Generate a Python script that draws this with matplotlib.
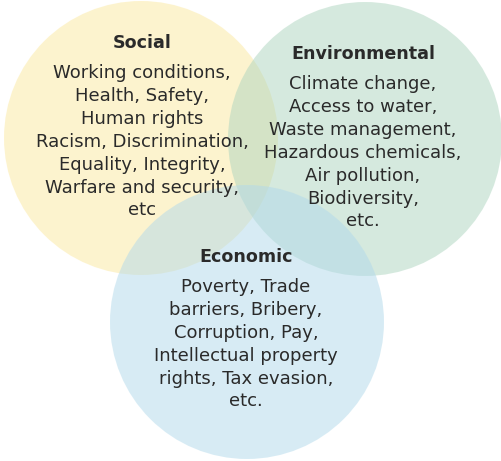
import matplotlib
matplotlib.use("Agg")
import matplotlib.pyplot as plt
from matplotlib.patches import Circle

W, H, DPI = 502, 461, 100

categories = ["Social", "Environmental", "Economic"]
social_items = ["Working conditions,", "Health, Safety,", "Human rights",
                "Racism, Discrimination,", "Equality, Integrity,",
                "Warfare and security,", "etc"]
env_items = ["Climate change,", "Access to water,", "Waste management,",
             "Hazardous chemicals,", "Air pollution,", "Biodiversity,", "etc."]
econ_items = ["Poverty, Trade", "barriers, Bribery,", "Corruption, Pay,",
              "Intellectual property", "rights, Tax evasion,", "etc."]
items = [social_items, env_items, econ_items]

# layout (pixel coordinates)
centers = [(141, 138), (365, 139), (247, 322)]
radius = 137
colors = ["#FBE89F", "#ADD5BF", "#B1D9EB"]
title_y = [43, 54, 257]
body_y0 = [73, 84, 287]
text_x = [142, 363, 246]
line_h = 22.9

fig = plt.figure(figsize=(W / DPI, H / DPI), dpi=DPI)
ax = fig.add_axes([0, 0, 1, 1])
ax.set_xlim(0, W)
ax.set_ylim(H, 0)
ax.set_aspect("equal")
ax.axis("off")

for (cx, cy), c in zip(centers, colors):
    ax.add_patch(Circle((cx, cy), radius, facecolor=c, edgecolor="none", alpha=0.5))

txt_color = "#2a2a2a"
for k, name in enumerate(categories):
    ax.text(text_x[k], title_y[k], name, ha="center", va="center",
            fontsize=12.6, fontweight="bold", color=txt_color, family="DejaVu Sans")
    for i, line in enumerate(items[k]):
        ax.text(text_x[k], body_y0[k] + i * line_h, line, ha="center", va="center",
                fontsize=13, color=txt_color, family="DejaVu Sans")

fig.savefig("out.png", dpi=DPI)
